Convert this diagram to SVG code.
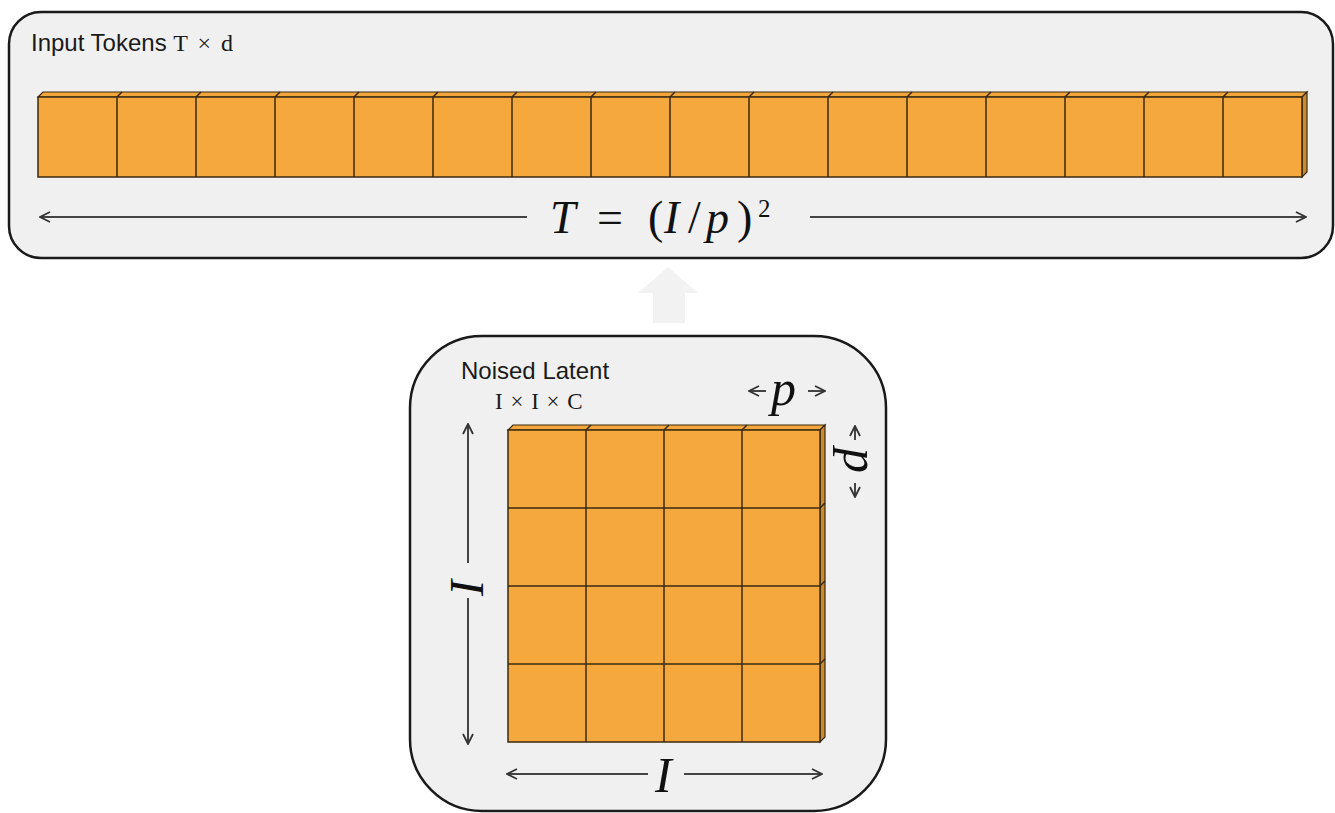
<svg xmlns="http://www.w3.org/2000/svg" width="1335" height="813" viewBox="0 0 1335 813">
<defs>
<style>
.box{fill:#f0f0f0;stroke:#1a1a1a;stroke-width:2.5}
.face{fill:#f5a83e;stroke:#3a2a10;stroke-width:1.5}
.top{fill:#f3a63c;stroke:#3a2a10;stroke-width:1.2}
.side{fill:#c98a30;stroke:#3a2a10;stroke-width:1.2}
.dim{stroke:#444;stroke-width:2;fill:none}
.lab{font-family:"Liberation Sans",Arial,sans-serif;font-size:24px;fill:#1a1a1a}
.ser{font-family:"Liberation Serif","Times New Roman",serif;fill:#1a1a1a}
.math{font-family:"Liberation Serif","Times New Roman",serif;fill:#111}
.it{font-style:italic}
</style>
<marker id="ah" viewBox="0 0 12 12" refX="11" refY="6" markerWidth="12" markerHeight="12" markerUnits="userSpaceOnUse" orient="auto-start-reverse">
<path d="M1,1 L11,6 L1,11" fill="none" stroke="#333" stroke-width="1.8"/>
</marker>
</defs>

<g id="input-tokens">
<rect class="box" x="9" y="12" width="1324" height="246" rx="32"/>
<text class="lab" x="31" y="51">Input Tokens <tspan class="ser" font-size="24" word-spacing="4">T × d</tspan></text>
<path class="top" d="M38,97 L43,92 L1307,92 L1302,97 Z"/>
<path class="side" d="M1302,97 L1307,92 L1307,172 L1302,177 Z"/>
<rect class="face" x="38" y="97" width="1264" height="80"/>
<path d="M117,97V177M196,97V177M275,97V177M354,97V177M433,97V177M512,97V177M591,97V177M670,97V177M749,97V177M828,97V177M907,97V177M986,97V177M1065,97V177M1144,97V177M1223,97V177M117,97l5,-5M196,97l5,-5M275,97l5,-5M354,97l5,-5M433,97l5,-5M512,97l5,-5M591,97l5,-5M670,97l5,-5M749,97l5,-5M828,97l5,-5M907,97l5,-5M986,97l5,-5M1065,97l5,-5M1144,97l5,-5M1223,97l5,-5" stroke="#3a2a10" stroke-width="1.5" fill="none"/>
<text class="math" y="233" font-size="46"><tspan class="it" x="550">T</tspan><tspan x="597">=</tspan><tspan x="648">(</tspan><tspan class="it" x="664">I</tspan><tspan x="688">/</tspan><tspan class="it" x="706">p</tspan><tspan x="737">)</tspan><tspan x="758" y="217" font-size="25">2</tspan></text>
</g>

<g id="noised-latent">
<rect class="box" x="410" y="336" width="476" height="475" rx="72"/>
<text class="lab" x="461" y="379">Noised Latent</text>
<text class="ser" x="495" y="409" font-size="23" word-spacing="2">I × I × C</text>
<path class="top" d="M508,430 L513,425 L825,425 L820,430 Z"/>
<path class="side" d="M820,430 L825,425 L825,737 L820,742 Z"/>
<rect class="face" x="508" y="430" width="312" height="312"/>
<path d="M586,430V742M664,430V742M742,430V742M508,508H820M508,586H820M508,664H820M586,430l5,-5M664,430l5,-5M742,430l5,-5M820,508l5,-5M820,586l5,-5M820,664l5,-5" stroke="#3a2a10" stroke-width="1.5" fill="none"/>
<text class="math it" x="771" y="405" font-size="50">p</text>
<text class="math it" font-size="50" transform="translate(844,448) rotate(90)">p</text>
<text class="math it" font-size="48" transform="translate(483,596) rotate(-90)">I</text>
<text class="math it" x="655" y="792" font-size="50">I</text>
</g>

<g id="up-arrow">
<path d="M668,267 L698,293 L685,293 L685,323 L653,323 L653,293 L638,293 Z" fill="#f2f2f2"/>
</g>

<g id="connectors">
<path class="dim" d="M527,217 H40" marker-end="url(#ah)"/>
<path class="dim" d="M810,217 H1306" marker-end="url(#ah)"/>
<path class="dim" d="M468,563 V424" marker-end="url(#ah)"/>
<path class="dim" d="M468,598 V744" marker-end="url(#ah)"/>
<path class="dim" d="M648,774 H507" marker-end="url(#ah)"/>
<path class="dim" d="M684,774 H822" marker-end="url(#ah)"/>
<path class="dim" d="M766,391 H749" marker-end="url(#ah)" stroke-width="1.5"/>
<path class="dim" d="M808,391 H825" marker-end="url(#ah)" stroke-width="1.5"/>
<path class="dim" d="M855,440 V426" marker-end="url(#ah)" stroke-width="1.5"/>
<path class="dim" d="M855,483 V497" marker-end="url(#ah)" stroke-width="1.5"/>
</g>
</svg>
